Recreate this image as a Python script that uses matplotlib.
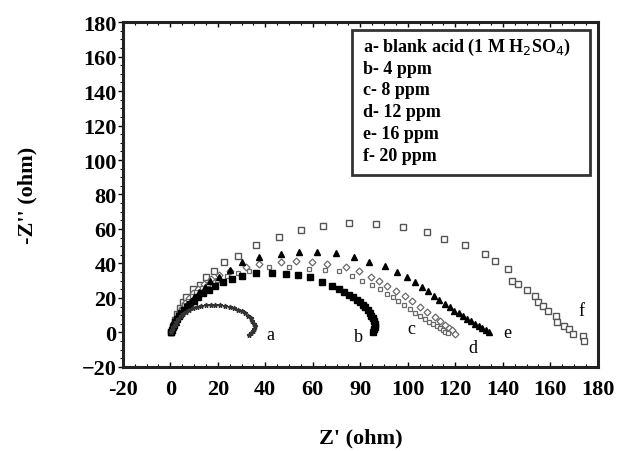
import matplotlib
matplotlib.use("Agg")
import matplotlib.pyplot as plt
from matplotlib.patches import Rectangle
from matplotlib.ticker import AutoMinorLocator

plt.rcParams["font.family"] = ["Liberation Serif", "DejaVu Serif"]

# a - blank acid
a_x = [0.3, 0.8, 1.3, 1.9, 2.6, 3.4, 4.3, 5.4, 6.6, 8.0, 9.6, 11.3, 13.1, 15.0, 17.0, 19.0,
       21.0, 23.0, 25.0, 26.9, 28.6, 30.2, 31.6, 32.8, 33.8, 34.6, 35.2, 35.5, 35.4, 34.9, 34.0, 33.0]
a_y = [0.2, 1.5, 3.0, 4.6, 6.2, 7.8, 9.3, 10.8, 12.1, 13.3, 14.3, 15.0, 15.5, 15.8, 15.9, 15.9,
       15.7, 15.4, 14.9, 14.2, 13.3, 12.2, 11.0, 9.6, 8.1, 6.6, 5.0, 3.5, 2.0, 0.7, -0.4, -1.2]

# b - 4 ppm
b_x = [0.3, 0.6, 1.0, 1.5, 2.1, 2.8, 3.6, 4.6, 5.7, 6.9, 8.3, 9.9, 11.8, 13.9, 16.2, 19.0,
       22.2, 25.8, 30.0, 35.9, 42.7, 48.6, 53.7, 58.8, 63.9, 68.1, 71.0, 73.3, 75.2, 76.9,
       78.4, 79.8, 81.0, 82.1, 83.1, 84.0, 84.7, 85.3, 85.7, 86.0, 86.0, 85.8, 85.3]
b_y = [0.3, 1.5, 2.9, 4.4, 6.0, 7.6, 9.3, 11.0, 12.8, 14.6, 16.5, 18.5, 20.6, 22.7, 24.8, 27.0,
       29.2, 31.0, 32.7, 34.3, 34.6, 34.0, 33.2, 31.9, 29.5, 27.2, 25.3, 23.6, 22.0, 20.5,
       19.0, 17.5, 16.0, 14.5, 13.0, 11.4, 9.8, 8.2, 6.6, 5.0, 3.4, 1.9, 0.5]

# c - 8 ppm
c_x = [0.5, 1.0, 1.6, 2.4, 3.4, 4.5, 5.8, 7.3, 9.0, 11.0, 13.3, 16.0, 19.5, 24.0, 28.5, 33.0,
       41.4, 49.9, 58.4, 65.0, 71.1, 76.6, 80.8, 85.1, 88.2, 91.4, 93.6, 95.7, 98.2, 100.8,
       103.2, 105.3, 107.1, 108.8, 110.5, 112.2, 113.5, 114.7, 115.8, 116.9]
c_y = [0.4, 2.8, 5.3, 7.9, 10.6, 13.2, 15.9, 18.5, 21.0, 23.5, 25.8, 28.0, 30.5, 32.8, 34.3, 35.7,
       38.0, 38.0, 36.8, 36.5, 35.7, 32.8, 29.9, 27.5, 25.0, 22.3, 20.3, 18.3, 16.0, 13.6,
       11.5, 9.6, 7.8, 6.3, 5.0, 3.8, 2.6, 1.4, 0.5, -0.3]

# d - 12 ppm
d_x = [0.5, 1.0, 1.7, 2.6, 3.6, 4.8, 6.2, 7.8, 9.6, 11.6, 14.0, 17.0, 20.5, 25.0, 31.7, 37.2,
       46.5, 52.9, 59.7, 66.0, 74.1, 79.6, 84.7, 88.0, 91.4, 95.0, 98.6, 101.8, 105.0, 108.2,
       111.4, 113.6, 115.6, 117.2, 118.6, 119.8]
d_y = [0.5, 3.0, 5.7, 8.5, 11.3, 14.1, 17.0, 19.8, 22.6, 25.2, 28.0, 30.8, 33.2, 35.5, 38.0, 39.7,
       40.9, 41.4, 40.9, 39.7, 38.0, 35.7, 32.2, 29.6, 27.0, 24.1, 21.2, 18.0, 14.8, 11.9,
       9.0, 6.6, 4.3, 2.8, 1.4, -1.0]

# e - 16 ppm
e_x = [0.4, 0.9, 1.5, 2.2, 3.0, 4.0, 5.2, 6.6, 8.2, 10.0, 12.2, 14.5, 16.9, 20.3, 25.3, 30.0,
       37.2, 46.5, 54.2, 61.8, 69.8, 77.5, 83.8, 90.2, 95.3, 99.5, 102.9, 105.8, 108.4, 111.0,
       113.3, 115.5, 117.6, 119.6, 121.5, 123.3, 125.0, 126.7, 128.3, 129.9, 131.4, 132.8, 134.0]
e_y = [0.5, 2.3, 4.2, 6.2, 8.3, 10.5, 12.8, 15.2, 17.8, 20.5, 23.5, 26.6, 29.9, 32.2, 36.2, 40.9,
       43.8, 45.5, 46.7, 46.7, 46.1, 43.8, 40.9, 38.6, 35.1, 32.2, 29.0, 26.4, 23.8, 21.2,
       18.8, 16.5, 14.5, 12.7, 11.0, 9.4, 7.9, 6.5, 5.1, 3.8, 2.6, 1.5, 0.5]

# f - 20 ppm
f_x = [0.5, 1.0, 1.8, 2.8, 4.0, 5.3, 6.7, 9.7, 12.6, 15.2, 18.6, 22.8, 28.7, 35.9, 45.7, 55.0,
       64.3, 75.3, 86.8, 97.8, 108.0, 115.2, 124.1, 132.5, 136.8, 142.3, 144.0, 146.5, 150.3,
       153.7, 154.6, 157.1, 159.2, 162.2, 163.0, 165.6, 167.7, 169.4, 173.6, 174.0]
f_y = [0.5, 3.5, 7.0, 10.5, 14.0, 17.5, 20.6, 25.2, 27.5, 32.2, 35.7, 40.9, 44.3, 50.7, 55.4, 59.4,
       61.7, 63.5, 62.9, 61.2, 58.3, 54.2, 50.7, 45.5, 41.4, 36.8, 29.9, 28.1, 24.6,
       21.2, 17.7, 15.4, 12.5, 9.6, 6.1, 3.8, 2.0, -0.9, -2.0, -5.0]

x_ticks = [-20, 0, 20, 40, 60, 80, 100, 120, 140, 160, 180]
x_tick_labels = ["-20", "0", "20", "40", "60", "90", "100", "120", "140", "160", "180"]
y_ticks = [-20, 0, 20, 40, 60, 80, 100, 120, 140, 160, 180]

legend_lines = ["a- blank acid (1 M H$_2$SO$_4$)", "b- 4 ppm", "c- 8 ppm",
                "d- 12 ppm", "e- 16 ppm", "f- 20 ppm"]

fig = plt.figure(figsize=(6.17, 4.52), dpi=100)
ax = fig.add_axes([0.199, 0.186, 0.770, 0.763])

ax.plot(f_x, f_y, "s", ms=5, mfc="white", mec="#555555", mew=1.0)
ax.plot(d_x, d_y, "D", ms=3.5, mfc="white", mec="#6a6a6a", mew=0.9)
ax.plot(c_x, c_y, "s", ms=3.5, mfc="white", mec="#6a6a6a", mew=0.9)
ax.plot(e_x, e_y, "^", ms=4.5, color="black")
ax.plot(b_x, b_y, "s", ms=4.2, color="black")
ax.plot(a_x, a_y, "*", ms=3.5, color="#333333")

# curve labels
ax.text(40.6, -1, "a", fontsize=13, va="center")
ax.text(77.5, -2.6, "b", fontsize=13, va="center")
ax.text(99.9, 2.0, "c", fontsize=13, va="center")
ax.text(125.3, -9.0, "d", fontsize=13, va="center")
ax.text(140.2, -0.3, "e", fontsize=13, va="center")
ax.text(171.9, 12.5, "f", fontsize=13, va="center")

# legend box
ax.add_patch(Rectangle((0.482, 0.557), 0.501, 0.42, transform=ax.transAxes,
                       fill=False, ec="#333333", lw=2, zorder=5))
for i, t in enumerate(legend_lines):
    ax.text(0.505, 0.930 - i * 0.0635, t, transform=ax.transAxes, fontsize=13,
            fontweight="bold", va="center", zorder=6)

ax.set_xlim(-20, 180)
ax.set_ylim(-20, 180)
ax.set_xticks(x_ticks)
ax.set_xticklabels(x_tick_labels)
ax.set_yticks(y_ticks)
ax.xaxis.set_minor_locator(AutoMinorLocator(4))
ax.yaxis.set_minor_locator(AutoMinorLocator(4))
ax.tick_params(axis="x", which="both", direction="in", top=True, pad=9)
ax.tick_params(axis="y", which="both", direction="out", pad=1)
ax.tick_params(which="major", length=3.5, width=1)
ax.tick_params(which="minor", length=2, width=0.8)
for lbl in ax.get_xticklabels() + ax.get_yticklabels():
    lbl.set_fontsize(16)
    lbl.set_fontweight("bold")
for s in ax.spines.values():
    s.set_linewidth(2.2)
    s.set_color("#222222")

ax.set_xlabel("Z' (ohm)", fontsize=16, fontweight="bold", labelpad=20)
ax.set_ylabel("-Z'' (ohm)", fontsize=16, fontweight="bold", labelpad=32)

fig.savefig("out.png", dpi=100)
